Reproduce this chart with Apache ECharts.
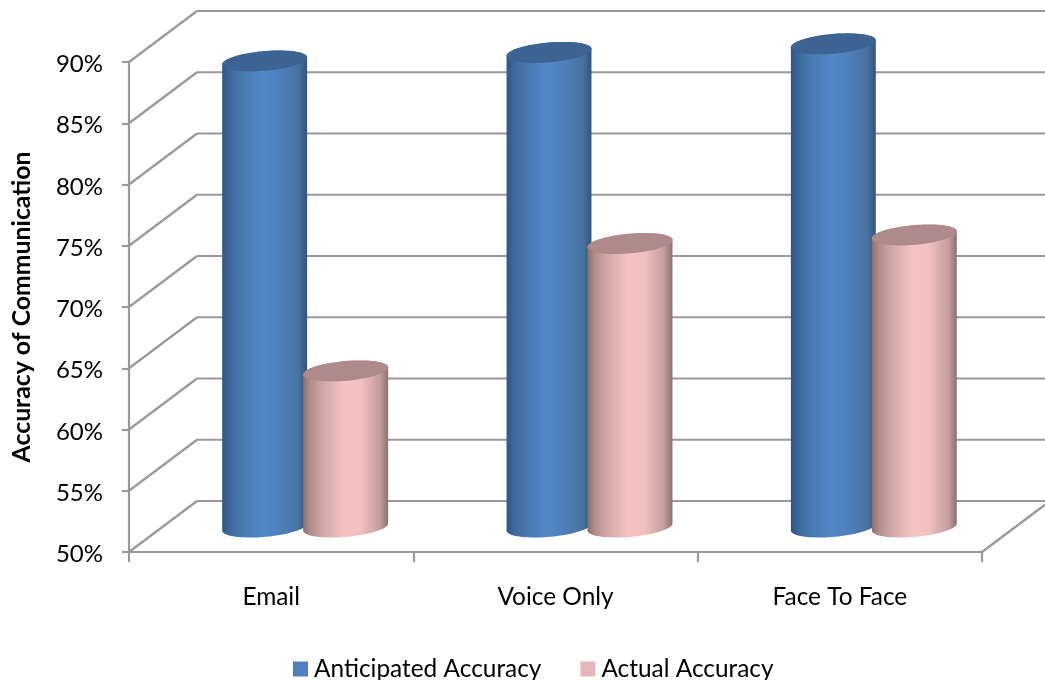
<!DOCTYPE html>
<html>
<head>
<meta charset="utf-8">
<style>html,body{margin:0;padding:0;background:#fff}#chart{width:1045px;height:680px}</style>
<script src="https://cdn.jsdelivr.net/npm/echarts@6/dist/echarts.min.js"></script>
</head>
<body>
<div id="chart"></div>
<script>
const categories = ['Email', 'Voice Only', 'Face To Face'];
const anticipatedAccuracy = [88, 88.7, 89.4];
const actualAccuracy = [62.7, 73.1, 73.8];
const axisTicks = [50, 55, 60, 65, 70, 75, 80, 85, 90];

// Oblique projection of the chart box: how far the back wall sits from the front plane.
const DEPTH_X = 68, DEPTH_Y = -51;
// Cylinder geometry, in pixels.
const BAR_SHIFT = 40.5, RADIUS_X = 42.65, RADIUS_Y = 9.85, TILT = 5 * Math.PI / 180;
const GRID_COLOR = '#999999', LINE_WIDTH = 2.2, FONT = 'Lato';

const LOOKS = {
  blue: {
    top: '#3c6391',
    stops: [[0, '#2f5782'], [0.08, '#3b669a'], [0.22, '#4877ae'], [0.47, '#5387c8'], [0.62, '#4f82c0'], [0.9, '#47739f'], [1, '#30547e']]
  },
  pink: {
    top: '#ae8b8a',
    stops: [[0, '#8d6f6d'], [0.08, '#b08c8b'], [0.25, '#d5abaa'], [0.47, '#f3c2c2'], [0.68, '#f1c0c0'], [0.9, '#c49d9c'], [1, '#8f716f']]
  }
};

function gradient(stops) {
  return new echarts.graphic.LinearGradient(0, 0, 1, 0, stops.map(s => ({ offset: s[0], color: s[1] })));
}

// Point on the tilted ellipse of a cylinder end, t measured in ellipse space.
function rim(cx, cy, t) {
  const u = RADIUS_X * Math.cos(t), v = RADIUS_Y * Math.sin(t);
  return [cx + u * Math.cos(TILT) + v * Math.sin(TILT), cy - u * Math.sin(TILT) + v * Math.cos(TILT)];
}

function ellipsePoints(cx, cy, from, to, n) {
  const pts = [];
  for (let i = 0; i <= n; i++) pts.push(rim(cx, cy, from + (to - from) * i / n));
  return pts;
}

function cylinderRenderer(shift, look) {
  return function (params, api) {
    const base = api.coord([api.value(0), axisTicks[0]]);
    const head = api.coord([api.value(0), api.value(1)]);
    const cx = base[0] + shift + DEPTH_X / 2;
    const by = base[1] + DEPTH_Y / 2 + 0.5;
    const ty = head[1] + DEPTH_Y / 2;
    // Rim parameters of the left and right silhouette tangents.
    const tan = Math.atan2(RADIUS_Y * Math.sin(TILT), RADIUS_X * Math.cos(TILT));
    const right = -tan, left = Math.PI - tan;
    const body = ellipsePoints(cx, by, left, right, 40)
      .concat(ellipsePoints(cx, ty, right, left - 2 * Math.PI, 40));
    return {
      type: 'group',
      children: [
        { type: 'polygon', shape: { points: body }, style: { fill: gradient(look.stops) } },
        { type: 'polygon', shape: { points: ellipsePoints(cx, ty, 0, 2 * Math.PI, 72) }, style: { fill: look.top } }
      ]
    };
  };
}

function wallRenderer(params, api) {
  const box = params.coordSys;
  const p = api.coord([0, api.value(1)]);
  const line = (x1, y1, x2, y2) => ({
    type: 'line',
    shape: { x1, y1, x2, y2 },
    style: { stroke: GRID_COLOR, lineWidth: LINE_WIDTH }
  });
  const children = [
    line(box.x, p[1], box.x + DEPTH_X, p[1] + DEPTH_Y),
    line(box.x + DEPTH_X, p[1] + DEPTH_Y, box.x + box.width + DEPTH_X, p[1] + DEPTH_Y)
  ];
  if (api.value(1) === axisTicks[0]) {
    children.push(line(box.x + box.width, p[1], box.x + box.width + DEPTH_X, p[1] + DEPTH_Y));
  }
  return { type: 'group', children };
}

const chart = echarts.init(document.getElementById('chart'));
chart.setOption({
  animation: false,
  backgroundColor: '#ffffff',
  grid: { left: 129, right: 63, top: 62, bottom: 128, outerBoundsMode: 'none' },
  legend: {
    left: 288,
    top: 652,
    icon: 'rect',
    itemWidth: 15,
    itemHeight: 15,
    itemGap: 39,
    textStyle: { fontFamily: FONT, fontSize: 24.4, color: '#000', padding: [0, 0, 0, 1] },
    data: [
      { name: 'Anticipated Accuracy', itemStyle: { color: '#4f81bd' } },
      { name: 'Actual Accuracy', itemStyle: { color: '#e6b9b8' } }
    ]
  },
  xAxis: {
    type: 'category',
    data: categories,
    axisLine: { lineStyle: { color: GRID_COLOR, width: LINE_WIDTH } },
    axisTick: { show: true, alignWithLabel: false, length: 10, lineStyle: { color: GRID_COLOR, width: LINE_WIDTH } },
    axisLabel: { fontFamily: FONT, fontSize: 24.4, color: '#000', margin: 33 }
  },
  yAxis: {
    type: 'value',
    min: 50,
    max: 90,
    interval: 5,
    name: 'Accuracy of Communication',
    nameLocation: 'middle',
    nameRotate: 90,
    nameGap: 94,
    nameTextStyle: { fontFamily: FONT, fontSize: 24.8, fontWeight: 'bold', color: '#000' },
    splitLine: { show: false },
    axisLine: { show: true, lineStyle: { color: GRID_COLOR, width: LINE_WIDTH } },
    axisTick: { show: true, length: 7, lineStyle: { color: GRID_COLOR, width: LINE_WIDTH } },
    axisLabel: {
      formatter: v => '{tick|' + v + '%}',
      margin: 26,
      rich: { tick: { fontFamily: FONT, fontSize: 24, color: '#000', padding: [5, 0, 0, 0] } }
    }
  },
  series: [
    {
      type: 'custom',
      name: 'walls',
      silent: true,
      z: 1,
      renderItem: wallRenderer,
      data: axisTicks.map(t => [0, t])
    },
    {
      type: 'custom',
      name: 'Anticipated Accuracy',
      z: 2,
      itemStyle: { color: '#4f81bd' },
      renderItem: cylinderRenderer(-BAR_SHIFT, LOOKS.blue),
      data: anticipatedAccuracy.map((v, i) => [i, v])
    },
    {
      type: 'custom',
      name: 'Actual Accuracy',
      z: 3,
      itemStyle: { color: '#e6b9b8' },
      renderItem: cylinderRenderer(BAR_SHIFT, LOOKS.pink),
      data: actualAccuracy.map((v, i) => [i, v])
    }
  ]
});
</script>
</body>
</html>
